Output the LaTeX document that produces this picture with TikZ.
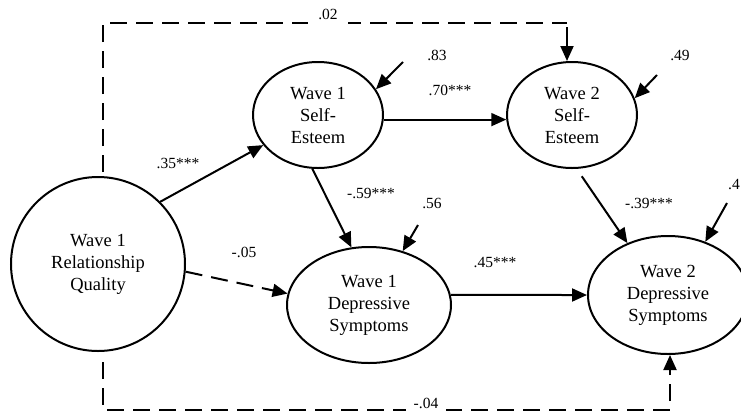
\documentclass[tikz,border=0pt]{standalone}
\usepackage{fontspec}
\setmainfont{Liberation Serif}
\usetikzlibrary{arrows.meta,shapes.geometric}
\begin{document}
\begin{tikzpicture}[x=1pt,y=-1pt,
  var/.style={draw,ellipse,line width=2pt,inner sep=0pt,align=center,font=\fontsize{18.5}{22}\selectfont},
  lbl/.style={font=\fontsize{15.5}{18}\selectfont,inner sep=1pt},
  conn/.style={line width=2pt,-{Triangle[length=15pt,width=13pt]}},
  dsh/.style={dash pattern=on 17pt off 9pt}]
\useasboundingbox (0,0) rectangle (741,413);
% variables
\node[var,circle,minimum size=174pt] (rq) at (98,264) {Wave 1\\Relationship\\Quality};
\node[var,minimum width=130pt,minimum height=106pt] (se1) at (318,115) {Wave 1\\Self-\\Esteem};
\node[var,minimum width=130pt,minimum height=106pt] (se2) at (572,115) {Wave 2\\Self-\\Esteem};
\node[var,minimum width=164pt,minimum height=116pt] (dp1) at (369,305) {Wave 1\\Depressive\\Symptoms};
\node[var,minimum width=160pt,minimum height=118pt] (dp2) at (668,295) {Wave 2\\Depressive\\Symptoms};
% structural paths
\draw[conn] (rq.45) -- (se1);
\draw[conn] (se1.-4) -- (se2.184);
\draw[conn] (se1.-96) -- (dp1.107);
\draw[conn,dsh] (rq.-5) -- (dp1.172);
\draw[conn] (dp1.7) -- (dp2.west);
\draw[conn,shorten <=9pt] (se2.-85) -- (dp2.128);
% residuals
\coordinate (r83) at (403,62);
\coordinate (r49) at (657,75);
\coordinate (r56) at (418,225);
\coordinate (r4) at (727,203);
\draw[conn] (r83) -- (se1.24);
\draw[conn] (r49) -- (se2.15);
\draw[conn] (r56) -- (dp1.58);
\draw[conn] (r4) -- (dp2.55);
% top dashed path
\coordinate (t1) at (103,23);
\coordinate (t2) at (567,23);
\draw[line width=2pt,dsh,shorten <=4pt] (rq.north -| t1) -- (t1) -- (t2);
\draw[conn,shorten <=4pt] (t2) -- (se2.north -| t2);
% bottom dashed path
\coordinate (b1) at (103,410);
\coordinate (b2) at (670,410);
\draw[conn,dsh,shorten <=10pt] (rq.south -| b1) -- (b1) -- (b2) -- (b2 |- dp2.south);
% labels
\node[lbl] (l35) at (178,163) {.35***};
\node[lbl] (l70) at (450,90) {.70***};
\node[lbl] (l83) at (437,55) {.83};
\node[lbl] (l49) at (680,55) {.49};
\node[lbl] (l59) at (371,193) {-.59***};
\node[lbl] (l56) at (432,203) {.56};
\node[lbl] (l05) at (244,252) {-.05};
\node[lbl] (l45) at (495,263) {.45***};
\node[lbl] (l39) at (649,203) {-.39***};
\node[lbl] (l4) at (734,185) {.4};
\node[lbl,fill=white,inner xsep=10pt,inner ysep=6pt] (l02) at (328,14) {.02};
\node[lbl,fill=white,inner xsep=8pt,inner ysep=4pt] (l04) at (426,403) {-.04};
\end{tikzpicture}
\end{document}
